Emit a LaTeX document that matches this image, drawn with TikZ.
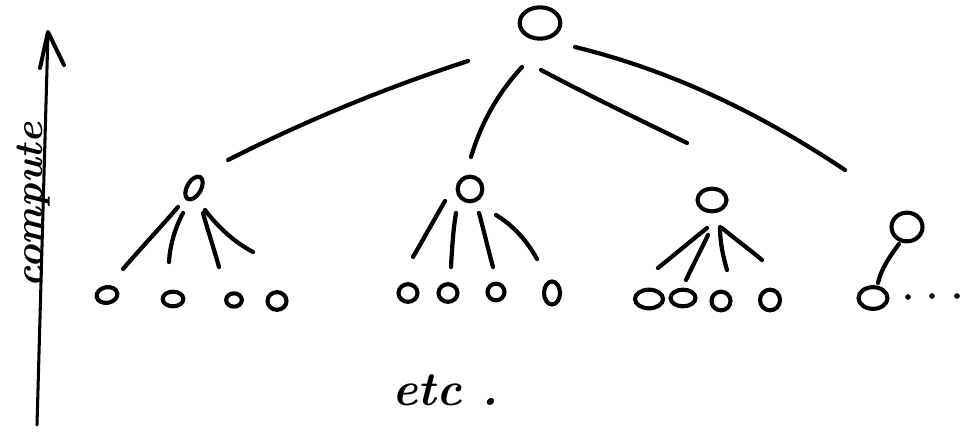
\documentclass[tikz,border=0pt]{standalone}
\usetikzlibrary{shapes.geometric,calc}

\tikzset{
  bub/.style={ellipse, draw, line width=3.5pt, inner sep=0pt, outer sep=0pt},
  link/.style={line width=3.6pt, line cap=round},
  dotmark/.style={circle, fill, inner sep=0pt, minimum size=0.17cm},
  hand/.style={font=\fontsize{34}{38}\selectfont\bfseries\itshape, inner sep=0pt},
}

\begin{document}
\begin{tikzpicture}[x=0.03cm, y=-0.03cm]
  % canvas
  \fill[white] (0,0) rectangle (963,432);
  \useasboundingbox (0,0) rectangle (963,432);

  % vertical axis with open arrowhead
  \coordinate (axbot) at (37,425);
  \coordinate (axtop) at (48,32);
  \draw[line width=2.6pt, line cap=round] (axbot) -- (axtop);
  \draw[line width=3.4pt, line cap=round, line join=round]
    ($(axtop)+(-8,36)$) -- (axtop) -- ($(axtop)+(16,33)$);
  \node[hand, rotate=90, anchor=base] (axlabel) at (42,205) {compute};

  % root
  \node[bub, minimum width=1.22cm, minimum height=0.94cm] (root) at (540,23) {};

  % second level
  \node[bub, minimum width=0.42cm, minimum height=0.75cm, rotate=-30] (c1) at (194,188) {};
  \node[bub, minimum width=0.74cm, minimum height=0.74cm] (c2) at (470,189) {};
  \node[bub, minimum width=0.87cm, minimum height=0.68cm] (c3) at (712,200) {};
  \node[bub, minimum width=0.93cm, minimum height=0.86cm] (c4) at (907,227) {};

  % leaves
  \node[bub, minimum width=0.63cm, minimum height=0.47cm, rotate=10] (l11) at (107,295) {};
  \node[bub, minimum width=0.62cm, minimum height=0.44cm] (l12) at (173,299) {};
  \node[bub, minimum width=0.47cm, minimum height=0.40cm] (l13) at (234,300) {};
  \node[bub, minimum width=0.57cm, minimum height=0.53cm] (l14) at (277,301) {};

  \node[bub, minimum width=0.57cm, minimum height=0.53cm] (l21) at (408,293) {};
  \node[bub, minimum width=0.57cm, minimum height=0.53cm] (l22) at (448,293) {};
  \node[bub, minimum width=0.51cm, minimum height=0.50cm] (l23) at (496,292) {};
  \node[bub, minimum width=0.48cm, minimum height=0.69cm] (l24) at (552,293) {};

  \node[bub, minimum width=0.84cm, minimum height=0.56cm] (l31) at (649,299) {};
  \node[bub, minimum width=0.75cm, minimum height=0.50cm] (l32) at (683,298) {};
  \node[bub, minimum width=0.57cm, minimum height=0.56cm] (l33) at (721,301) {};
  \node[bub, minimum width=0.60cm, minimum height=0.62cm] (l34) at (770,300) {};

  \node[bub, minimum width=0.87cm, minimum height=0.65cm] (l41) at (873,298) {};
  \node[dotmark] (m1) at (908,297) {};
  \node[dotmark] (m2) at (932,296) {};
  \node[dotmark] (m3) at (957,296) {};

  % root to second level
  \draw[link] ($(root)+(-72,38)$) .. controls +(-83,27) and +(77,-39) .. ($(c1)+(34,-28)$);
  \draw[link] ($(root)+(-18,44)$) .. controls +(-24,26) and +(10,-34) .. ($(c2)+(1,-32)$);
  \draw[link] ($(root)+(1,47)$) .. controls +(49,26) and +(-49,-24) .. ($(c3)+(-25,-57)$);
  \draw[link] ($(root)+(35,24)$) .. controls +(98,24) and +(-84,-56) .. ($(c4)+(-62,-57)$);

  % first group
  \draw[link] ($(c1)+(-16,19)$) .. controls +(-18,21) and +(18,-21) .. ($(l11)+(16,-26)$);
  \draw[link] ($(c1)+(-11,25)$) .. controls +(-8,15) and +(1,-17) .. ($(l12)+(-4,-37)$);
  \draw[link] ($(c1)+(9,25)$) .. controls +(5,18) and +(-5,-18) .. ($(l13)+(-15,-33)$);
  \draw[link] ($(c1)+(11,22)$) .. controls +(13,17) and +(-19,-10) .. ($(l14)+(-24,-49)$);

  % second group
  \draw[link] ($(c2)+(-25,12)$) .. controls +(-11,19) and +(11,-19) .. ($(l21)+(5,-36)$);
  \draw[link] ($(c2)+(-14,24)$) .. controls +(-3,18) and +(1,-18) .. ($(l22)+(3,-26)$);
  \draw[link] ($(c2)+(9,24)$) .. controls +(5,18) and +(-5,-18) .. ($(l23)+(-3,-25)$);
  \draw[link] ($(c2)+(26,26)$) .. controls +(18,11) and +(-10,-18) .. ($(l24)+(-15,-34)$);

  % third group
  \draw[link] ($(c3)+(-5,28)$) .. controls +(-16,13) and +(16,-13) .. ($(l31)+(9,-31)$);
  \draw[link] ($(c3)+(-4,35)$) .. controls +(-7,15) and +(7,-15) .. ($(l32)+(3,-18)$);
  \draw[link] ($(c3)+(8,27)$) .. controls +(0,16) and +(-4,-14) .. ($(l33)+(6,-31)$);
  \draw[link] ($(c3)+(10,28)$) .. controls +(13,11) and +(-13,-11) .. ($(l34)+(-8,-40)$);

  % fourth group
  \draw[link] ($(c4)+(-8,17)$) .. controls +(-9,12) and +(3,-14) .. ($(l41)+(5,-15)$);

  % caption
  \node[hand, font=\fontsize{41}{44}\selectfont\bfseries\itshape, anchor=base west] (etc) at (392,405) {etc\ .};
\end{tikzpicture}
\end{document}
